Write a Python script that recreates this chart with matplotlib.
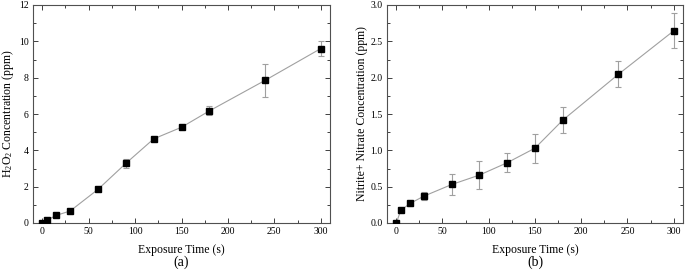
import matplotlib
matplotlib.use('Agg')
import matplotlib.pyplot as plt
from matplotlib.ticker import MultipleLocator

# data
time_s = [0, 5, 15, 30, 60, 90, 120, 150, 180, 240, 300]

h2o2_ppm = [0.02, 0.15, 0.42, 0.66, 1.85, 3.28, 4.63, 5.27, 6.17, 7.85, 9.6]
h2o2_err = [0.02, 0.05, 0.05, 0.05, 0.08, 0.25, 0.08, 0.12, 0.25, 0.9, 0.42]

nox_ppm = [0.0, 0.175, 0.27, 0.37, 0.53, 0.66, 0.83, 1.03, 1.415, 2.045, 2.645]
nox_err = [0.01, 0.02, 0.03, 0.05, 0.14, 0.19, 0.13, 0.2, 0.18, 0.18, 0.24]

x_label = 'Exposure Time (s)'
y_labels = ['H$_2$O$_2$ Concentration (ppm)', 'Nitrite+ Nitrate Concentration (ppm)']
panel_tags = ['(a)', '(b)']

plt.rcParams['font.family'] = ['Liberation Serif', 'DejaVu Serif']
plt.rcParams['mathtext.fontset'] = 'custom'
plt.rcParams['mathtext.rm'] = 'Liberation Serif'
plt.rcParams['mathtext.it'] = 'Liberation Serif:italic'

fig = plt.figure(figsize=(6.85, 2.7), dpi=100)
ax_a = fig.add_axes([33 / 685, 47 / 270, 297 / 685, 218 / 270])
ax_b = fig.add_axes([387 / 685, 47 / 270, 296 / 685, 218 / 270])

panels = [
    (ax_a, h2o2_ppm, h2o2_err, (0, 12), 2, 1),
    (ax_b, nox_ppm, nox_err, (0, 3), 0.5, 0.25),
]

for i, (ax, vals, errs, ylim, ymaj, ymin) in enumerate(panels):
    ax.errorbar(time_s, vals, yerr=errs, color='#a0a0a0', lw=0.8,
                elinewidth=0.8, capsize=2.5, capthick=0.8,
                marker='s', ms=4, mfc='black', mec='black', zorder=3)
    ax.set_xlim(-10, 310)
    ax.set_ylim(*ylim)
    ax.xaxis.set_major_locator(MultipleLocator(50))
    ax.xaxis.set_minor_locator(MultipleLocator(25))
    ax.yaxis.set_major_locator(MultipleLocator(ymaj))
    ax.yaxis.set_minor_locator(MultipleLocator(ymin))
    if ymaj < 1:
        ax.yaxis.set_major_formatter(plt.FormatStrFormatter('%.1f'))
    ax.tick_params(which='both', direction='in', top=True, right=True,
                   labelsize=7, color='#404040', width=0.7, pad=3)
    ax.tick_params(which='major', length=3.5)
    ax.tick_params(which='minor', length=2)
    for sp in ax.spines.values():
        sp.set_color('#505050')
        sp.set_linewidth(0.8)
    ax.set_ylabel(y_labels[i], fontsize=8.5, labelpad=2)
    ax.set_xlabel(x_label, fontsize=8.5, labelpad=6)
    ax.text(0.5, -0.178, panel_tags[i], transform=ax.transAxes,
            ha='center', va='center', fontsize=10)

fig.savefig('out.png', dpi=100)
